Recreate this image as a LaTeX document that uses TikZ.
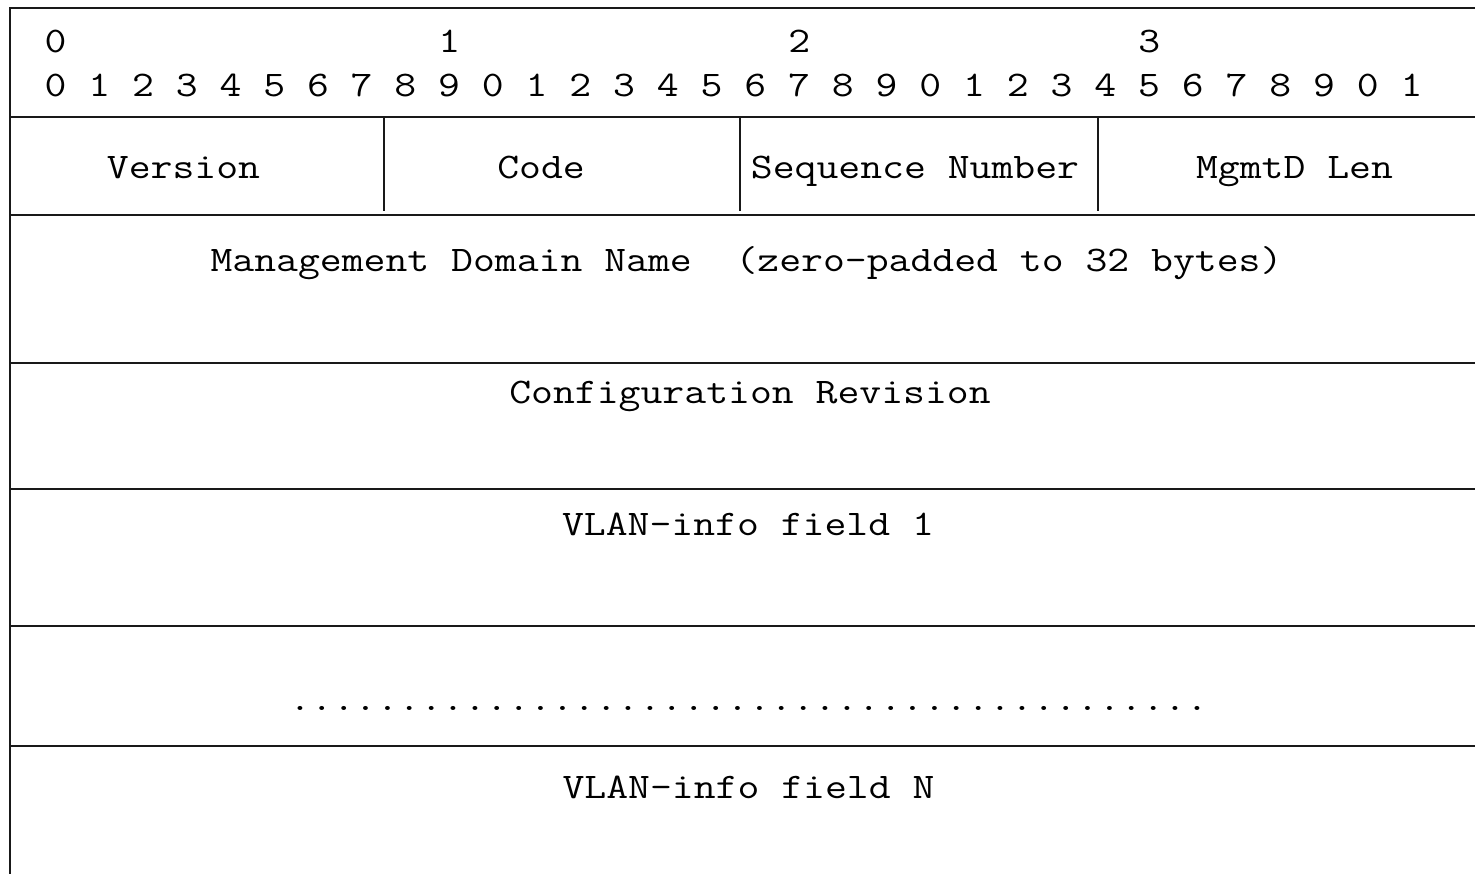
\documentclass[tikz,border=0pt]{standalone}
\usepackage{graphicx}
\newcommand\pkt[1]{\scalebox{1.18}[1]{\fontsize{36}{40}\selectfont\ttfamily\frenchspacing #1}}
\tikzset{
  rule/.style={line width=1.9pt, draw=black!90},
  lbl/.style={anchor=base, inner sep=0pt, outer sep=0pt, text=black}
}
\begin{document}
\begin{tikzpicture}[x=1pt, y=-1pt]
\useasboundingbox (0,0) rectangle (1475,874);
\fill[white] (0,0) rectangle (1475,874);
% outer frame (cropped on right and bottom)
\draw[rule] (10,874) -- (10,8) -- (1475,8);
% horizontal rules
\foreach \yy in {117,215,363,489,626,746}
  \draw[rule] (10,\yy) -- (1475,\yy);
% vertical dividers in first word
\foreach \xx in {384,740,1098}
  \draw[rule] (\xx,117) -- (\xx,211);
% bit numbers
\node[lbl, anchor=base west] (bitsA) at (44.5,53) {\pkt{0~~~~~~~~~~~~~~~~~1~~~~~~~~~~~~~~~2~~~~~~~~~~~~~~~3}};
\node[lbl, anchor=base west] (bitsB) at (44.5,97) {\pkt{0 1 2 3 4 5 6 7 8 9 0 1 2 3 4 5 6 7 8 9 0 1 2 3 4 5 6 7 8 9 0 1}};
% fields
\node[lbl] (version) at (183.5,179) {\pkt{Version}};
\node[lbl] (code) at (541,179) {\pkt{Code}};
\node[lbl] (seq) at (915,179) {\pkt{Sequence Number}};
\node[lbl] (mlen) at (1294.5,179) {\pkt{MgmtD Len}};
\node[lbl] (mdn) at (746.5,272) {\pkt{Management Domain Name~~(zero-padded to 32 bytes)}};
\node[lbl] (rev) at (750,403) {\pkt{Configuration Revision}};
\node[lbl] (vlan1) at (748,535) {\pkt{VLAN-info field 1}};
\node[lbl] (dots) at (748.5,710) {\pkt{..........................................}};
\node[lbl] (vlanN) at (748.5,798) {\pkt{VLAN-info field N}};
\end{tikzpicture}
\end{document}
